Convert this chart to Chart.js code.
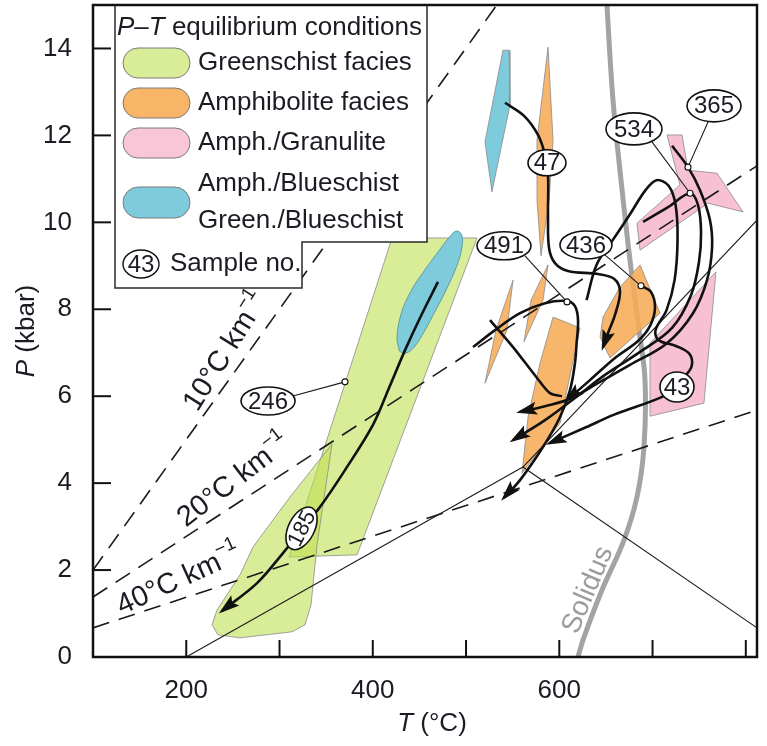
<!DOCTYPE html>
<html>
<head>
<meta charset="utf-8">
<title>P–T paths</title>
<script src="https://cdn.jsdelivr.net/npm/chart.js@4.4.1/dist/chart.umd.min.js"></script>
<style>
  html, body { margin: 0; padding: 0; background: #fff; }
  canvas { display: block; }
</style>
</head>
<body>
<canvas id="pt" width="767" height="746"></canvas>
<script>
// ---------- axis ticks ----------
const xTickMarks = [200, 300, 400, 500, 600, 700, 800];
const xTickLabels = [200, 400, 600, 800];
const yTickLabels = [0, 2, 4, 6, 8, 10, 12, 14];

// ---------- geotherms and reaction lines, [T (°C), P (kbar)] ----------
const geotherm10 = [[100, 2.0], [533, 15.0]];
const geotherm20 = [[100, 1.38], [812, 11.3]];
const geotherm40 = [[100, 0.67], [812, 5.68]];

const kyAnd = [[200, 0], [561, 4.37]];
const kySil = [[561, 4.37], [812, 10.05]];
const andSil = [[561, 4.37], [812, 0.67]];

const solidus = [[650.5, 15.2], [657.6, 12.81], [666.2, 10.97], [675.8, 9.13], [685.5, 7.52], [691.9, 6.37],
  [690.8, 4.83], [683.3, 3.68], [669.4, 2.69], [645.8, 1.54], [625.4, 0.39], [620.1, 0]];

// ---------- facies fields ----------
const greenBand = [[420.6, 9.64], [511.8, 9.64], [383.1, 2.35], [310.2, 2.30]];
const greenLow = [[356.3, 4.90], [340.2, 2.58], [333.8, 1.20], [327.3, 0.74], [313.4, 0.58], [257.6, 0.44],
  [234.0, 0.51], [227.6, 0.74], [233.0, 1.08], [257.6, 1.89], [271.6, 2.53], [311.2, 3.68]];
const blueEllipse = [[428.5, 7.04], [426.0, 7.35], [430.5, 7.90], [440.5, 8.40], [455.0, 8.88], [470.0, 9.32],
  [481.5, 9.64], [489.5, 9.80], [495.5, 9.70], [495.0, 9.35], [489.0, 8.94], [479.0, 8.46], [467.5, 7.98],
  [455.5, 7.50], [444.0, 7.12], [434.0, 6.98]];
const blueNeedle = [[539.6, 13.96], [546.1, 13.96], [547.1, 12.70], [527.8, 10.70], [520.3, 11.85]];
const orangeNeedle = [[587.9, 14.03], [593.3, 11.89], [589.0, 10.51], [580.4, 9.23], [576.1, 10.51], [576.1, 11.89]];
const orangeBladeA = [[550.4, 8.67], [543.9, 7.52], [520.3, 6.30], [532.1, 7.52]];
const orangeBladeB = [[587.9, 9.02], [582.5, 8.21], [562.1, 7.25], [569.7, 8.21]];
const orangeMain = [[593.3, 7.82], [622.2, 7.57], [600.8, 5.38], [560.0, 4.23], [566.5, 5.52], [579.3, 6.76]];
const orange436 = [[686.6, 9.02], [708.0, 7.91], [654.4, 6.88], [643.7, 7.36], [646.9, 7.82], [665.1, 8.51]];
const pinkUpper = [[715.5, 12.01], [731.6, 12.01], [738.0, 11.20], [769.1, 11.13], [797.0, 10.24], [759.5, 10.44],
  [686.6, 9.36], [683.3, 9.98], [729.4, 10.86]];
const pinkLower = [[768.0, 8.86], [755.1, 5.84], [697.3, 5.54], [697.3, 7.22]];

// ---------- P–T paths (last point = arrow tip) ----------
const path185 = [[469.9, 8.63], [450.6, 7.80], [434.6, 7.06], [417.4, 6.19], [400.2, 5.34], [370.2, 4.30],
  [343.4, 3.45], [322.0, 2.88], [303.7, 2.39], [275.9, 1.70], [238.3, 1.06]];
const path47 = [[541.8, 12.75], [562.2, 12.45], [577.2, 12.01], [584.7, 11.55], [587.9, 11.09], [587.9, 10.17],
  [589.0, 9.41], [595.4, 9.06], [609.3, 8.88], [641.5, 8.81], [658.7, 8.70], [665.1, 8.40], [659.7, 7.87],
  [652.2, 7.45], [646.9, 7.13]];
const path436 = [[687.6, 8.54], [698.3, 8.40], [702.6, 8.03], [697.3, 7.62], [684.4, 7.27], [659.7, 6.88],
  [632.9, 6.37], [608.3, 5.91]];
const path534 = [[689.8, 10.01], [716.6, 10.35], [740.2, 10.67], [748.7, 10.40], [752.0, 9.78], [749.8, 9.09],
  [741.3, 8.33], [720.9, 7.57], [686.6, 7.02], [649.0, 6.49], [616.8, 5.96], [584.7, 5.45], [550.4, 4.99]];
const path365 = [[720.9, 11.76], [738.0, 11.27], [750.9, 10.74], [761.6, 10.05], [763.8, 9.41], [758.4, 8.67],
  [743.4, 7.91], [715.5, 7.22], [675.8, 6.72], [643.7, 6.33], [611.5, 5.94], [584.7, 5.77], [557.9, 5.64]];
const path43 = [[629.2, 8.21], [639.9, 9.02], [656.0, 9.55], [675.3, 10.17], [692.5, 10.74], [704.3, 10.97],
  [717.2, 10.84], [724.7, 10.40], [726.8, 9.59], [723.6, 8.67], [715.0, 7.98], [703.2, 7.52], [706.4, 7.29],
  [725.8, 7.15], [739.7, 6.97], [741.9, 6.69], [733.3, 6.42], [726.2, 6.21], [709.7, 5.98], [658.2, 5.57],
  [629.2, 5.29], [589.5, 4.92]];
const path491 = [[507.5, 7.13], [531.1, 7.52], [557.9, 7.91], [584.7, 8.14], [608.3, 8.19], [616.8, 8.07],
  [620.1, 7.75], [618.5, 7.20], [616.8, 6.76], [611.5, 6.14], [600.8, 5.52], [582.5, 4.83], [557.9, 4.07],
  [540.5, 3.66]];
const path491b = [[525.7, 7.75], [550.4, 7.13], [576.1, 6.42], [590.0, 6.07], [602.9, 6.00]];

// ---------- samples ----------
const samplePoints = [[370.2, 6.33], [608.3, 8.17], [687.6, 8.54], [740.2, 10.67], [738.0, 11.27]];
const leaderStarts = [[313.4, 6.00], [563.2, 9.23], [647.9, 9.27], [699.4, 11.85], [759.5, 12.31]];
const sampleNames = ['246', '185', '47', '491', '436', '534', '365', '43'];
const sampleAt = [[287.7, 5.89], [323.6, 2.96], [586.8, 11.37], [540.7, 9.46], [628.6, 9.48], [680.1, 12.15],
  [765.9, 12.68], [726.2, 6.21]];

// ---------- text annotations ----------
const geothermNames = ['10', '20', '40'];
const geothermAt = [[242.6, 7.02], [251.2, 4.05], [192.2, 1.77]];
const solidusAt = [630.8, 1.54];

const legendItems = ['Greenschist facies', 'Amphibolite facies', 'Amph./Granulite', 'Amph./Blueschist', 'Green./Blueschist'];

// ---------- style ----------
const FONT = "'Liberation Sans', Arial, sans-serif";
const INK = '#1b1b24';
const C_GREEN = 'rgba(192,223,82,0.6)';
const C_GREEN_SW = '#d9ec98';
const C_ORANGE = 'rgba(247,172,88,0.88)';
const C_ORANGE_SW = '#f8b568';
const C_PINK = 'rgba(246,186,206,0.9)';
const C_PINK_SW = '#f8c6d6';
const C_BLUE = '#7ecbdb';
const EDGE = '#8a8a8a';

const labelShape = {
  '246': { rx: 27, ry: 14, rot: 0 }, '185': { rx: 23, ry: 13, rot: -63 }, '47': { rx: 19, ry: 13, rot: 0 },
  '491': { rx: 27, ry: 14, rot: 0 }, '436': { rx: 26, ry: 14, rot: 0 }, '534': { rx: 28, ry: 16, rot: 0 },
  '365': { rx: 27, ry: 16, rot: 0 }, '43': { rx: 17, ry: 15, rot: 0 }
};
const geothermAngle = { '10': -58, '20': -37.5, '40': -24.5 };

// ---------- datasets ----------
const xy = pts => pts.map(([x, y]) => ({ x, y }));
const datasets = [];
function addPoly(pts, fill, stroke, order, tension = 0) {
  datasets.push({ data: xy([...pts, pts[0]]), showLine: true, fill: 'shape', backgroundColor: fill,
    borderColor: stroke, borderWidth: 0.8, pointRadius: 0, tension, order });
}
function addLine(pts, color, width, order, dash = [], tension = 0) {
  datasets.push({ data: xy(pts), showLine: true, fill: false, borderColor: color, borderWidth: width,
    borderDash: dash, pointRadius: 0, tension, order, borderCapStyle: 'butt' });
  return datasets.length - 1;
}

addPoly(greenBand, C_GREEN, EDGE, 100);
addPoly(greenLow, C_GREEN, EDGE, 99);
addLine(solidus, '#a3a3a3', 5, 95, [], 0.4);
addPoly(blueEllipse, C_BLUE, '#4f8b98', 90, 0.4);
addPoly(blueNeedle, C_BLUE, EDGE, 90);
[orangeNeedle, orangeBladeA, orangeBladeB, orangeMain, orange436].forEach(p => addPoly(p, C_ORANGE, EDGE, 85));
[pinkUpper, pinkLower].forEach(p => addPoly(p, C_PINK, EDGE, 85));
[geotherm10, geotherm20, geotherm40].forEach(g => addLine(g, '#1a1a1a', 1.6, 70, [17, 10]));
[kyAnd, kySil, andSil].forEach(r => addLine(r, '#1a1a1a', 1.1, 70));
leaderStarts.forEach((s, i) => addLine([s, samplePoints[i]], '#1a1a1a', 1.1, 60));
const arrowPaths = [path185, path47, path436, path534, path365, path43, path491]
  .map(p => addLine(p, '#111', 2.6, 50, [], 0.35));
addLine(path491b, '#111', 2.6, 50, [], 0.3);

// ---------- drawing helpers ----------
function rich(ctx, parts, x, y, angle, align) {
  ctx.save();
  ctx.translate(x, y);
  ctx.rotate(angle * Math.PI / 180);
  let w = 0;
  parts.forEach(p => { ctx.font = p.font; p.w = ctx.measureText(p.t).width; w += p.w; });
  let cx = align === 'left' ? 0 : -w / 2;
  ctx.textBaseline = 'middle';
  ctx.textAlign = 'left';
  ctx.fillStyle = parts.color || INK;
  parts.forEach(p => { ctx.font = p.font; ctx.fillText(p.t, cx, p.dy || 0); cx += p.w; });
  ctx.restore();
}
function pill(ctx, x, y, w, h, fill) {
  const r = h / 2;
  ctx.beginPath();
  ctx.moveTo(x + r, y);
  ctx.lineTo(x + w - r, y);
  ctx.arc(x + w - r, y + r, r, -Math.PI / 2, Math.PI / 2);
  ctx.lineTo(x + r, y + h);
  ctx.arc(x + r, y + r, r, Math.PI / 2, Math.PI * 1.5);
  ctx.closePath();
  ctx.fillStyle = fill; ctx.fill();
  ctx.lineWidth = 1; ctx.strokeStyle = '#7a7a7a'; ctx.stroke();
}
function ovalLabel(ctx, text, x, y, s, size) {
  ctx.save();
  ctx.translate(x, y);
  ctx.rotate(s.rot * Math.PI / 180);
  ctx.beginPath();
  ctx.ellipse(0, 0, s.rx, s.ry, 0, 0, Math.PI * 2);
  ctx.fillStyle = '#fff'; ctx.fill();
  ctx.lineWidth = 1.6; ctx.strokeStyle = '#111'; ctx.stroke();
  ctx.font = size + 'px ' + FONT;
  ctx.fillStyle = INK; ctx.textAlign = 'center'; ctx.textBaseline = 'middle';
  ctx.fillText(text, 0, 1);
  ctx.restore();
}

const overlay = {
  id: 'overlay',
  afterDatasetsDraw(chart) {
    const { ctx, chartArea: a } = chart;
    const sx = chart.scales.x, sy = chart.scales.y;
    const P = p => [sx.getPixelForValue(p[0]), sy.getPixelForValue(p[1])];

    ctx.save();
    ctx.beginPath(); ctx.rect(a.left, a.top, a.right - a.left, a.bottom - a.top); ctx.clip();

    // geotherm labels
    geothermNames.forEach((n, i) => {
      const [x, y] = P(geothermAt[i]);
      rich(ctx, [{ t: n + '°C km', font: '29px ' + FONT }, { t: '−1', font: '19px ' + FONT, dy: -11 }],
        x, y, geothermAngle[n]);
    });
    // solidus label
    {
      const [x, y] = P(solidusAt);
      const parts = [{ t: 'Solidus', font: '28px ' + FONT }];
      parts.color = '#9c9c9c';
      rich(ctx, parts, x, y, -67);
    }

    // arrowheads
    ctx.fillStyle = '#111';
    arrowPaths.forEach(idx => {
      const pts = chart.getDatasetMeta(idx).data;
      const tip = pts[pts.length - 1], prev = pts[pts.length - 2];
      const ang = Math.atan2(tip.y - prev.y, tip.x - prev.x);
      ctx.save();
      ctx.translate(tip.x, tip.y);
      ctx.rotate(ang);
      ctx.beginPath();
      ctx.moveTo(4, 0); ctx.lineTo(-17, -6.5); ctx.lineTo(-13, 0); ctx.lineTo(-17, 6.5);
      ctx.closePath(); ctx.fill();
      ctx.restore();
    });

    // sample points
    samplePoints.forEach(p => {
      const [x, y] = P(p);
      ctx.beginPath(); ctx.arc(x, y, 3, 0, Math.PI * 2);
      ctx.fillStyle = '#fff'; ctx.fill();
      ctx.lineWidth = 1.1; ctx.strokeStyle = '#111'; ctx.stroke();
    });
    // sample labels
    sampleNames.forEach((n, i) => {
      const [x, y] = P(sampleAt[i]);
      ovalLabel(ctx, n, x, y, labelShape[n], n === '185' ? 22 : 24);
    });
    ctx.restore();
  },
  afterDraw(chart) {
    const { ctx, chartArea: a } = chart;
    const sx = chart.scales.x, sy = chart.scales.y;

    // legend box (L-shaped)
    ctx.save();
    ctx.beginPath();
    ctx.moveTo(115, a.top); ctx.lineTo(427, a.top); ctx.lineTo(427, 242); ctx.lineTo(302, 242);
    ctx.lineTo(302, 288); ctx.lineTo(115, 288); ctx.closePath();
    ctx.fillStyle = '#fff'; ctx.fill();
    ctx.lineWidth = 1.5; ctx.strokeStyle = '#2a2a2a'; ctx.stroke();

    const F = '26px ' + FONT, FI = 'italic 26px ' + FONT;
    rich(ctx, [{ t: 'P–T', font: FI }, { t: ' equilibrium conditions', font: F }], 117, 28, 0, 'left');
    pill(ctx, 123, 48, 67, 30, C_GREEN_SW);
    pill(ctx, 123, 88, 67, 30, C_ORANGE_SW);
    pill(ctx, 123, 128, 67, 30, C_PINK_SW);
    pill(ctx, 123, 187, 67, 31, C_BLUE);
    const ly = [63, 103, 143, 184, 221];
    legendItems.forEach((t, i) => rich(ctx, [{ t, font: F }], 198, ly[i], 0, 'left'));
    ctx.beginPath(); ctx.ellipse(141, 264, 18, 14, 0, 0, Math.PI * 2);
    ctx.fillStyle = '#fff'; ctx.fill(); ctx.lineWidth = 1.4; ctx.strokeStyle = '#111'; ctx.stroke();
    ctx.font = '24px ' + FONT; ctx.fillStyle = INK; ctx.textAlign = 'center'; ctx.textBaseline = 'middle';
    ctx.fillText('43', 141, 265);
    rich(ctx, [{ t: 'Sample no.', font: F }], 170, 264, 0, 'left');

    // frame
    ctx.strokeStyle = '#111';
    ctx.lineWidth = 2.5;
    ctx.strokeRect(a.left, a.top, a.right - a.left, a.bottom - a.top);

    // inward tick marks
    ctx.lineWidth = 2;
    xTickMarks.forEach(v => {
      const x = sx.getPixelForValue(v);
      ctx.beginPath(); ctx.moveTo(x, a.bottom); ctx.lineTo(x, a.bottom - 17); ctx.stroke();
    });
    yTickLabels.forEach(v => {
      const y = sy.getPixelForValue(v);
      ctx.beginPath(); ctx.moveTo(a.left, y); ctx.lineTo(a.left + 18, y); ctx.stroke();
    });

    // axis titles
    rich(ctx, [{ t: 'P', font: FI }, { t: ' (kbar)', font: F }], 27, (a.top + a.bottom) / 2, -90);
    rich(ctx, [{ t: 'T', font: FI }, { t: ' (°C)', font: F }], 432, 724, 0);
    ctx.restore();
  }
};

function noEdgePadding(s) {
  s.paddingTop = 0; s.paddingBottom = 0; s.paddingLeft = 0; s.paddingRight = 0;
}

new Chart(document.getElementById('pt'), {
  type: 'scatter',
  data: { datasets },
  options: {
    responsive: false,
    animation: false,
    devicePixelRatio: 1,
    events: [],
    layout: { padding: { top: 5, right: 10, left: 0, bottom: 0 } },
    plugins: { legend: { display: false }, tooltip: { enabled: false } },
    scales: {
      x: {
        type: 'linear', min: 100, max: 812,
        grid: { display: false }, border: { display: false },
        ticks: {
          stepSize: 100, autoSkip: false, maxRotation: 0, padding: 10, color: INK,
          font: { family: FONT, size: 26 },
          callback: v => (xTickLabels.includes(v) ? String(v) : null)
        },
        afterFit(s) { s.height = 89; noEdgePadding(s); }
      },
      y: {
        type: 'linear', min: 0, max: 15,
        grid: { display: false }, border: { display: false },
        ticks: {
          stepSize: 2, autoSkip: false, padding: 13, color: INK,
          font: { family: FONT, size: 26 },
          callback: v => (yTickLabels.includes(v) ? String(v) : null)
        },
        afterFit(s) { s.width = 93; noEdgePadding(s); }
      }
    }
  },
  plugins: [overlay]
});
</script>
</body>
</html>
